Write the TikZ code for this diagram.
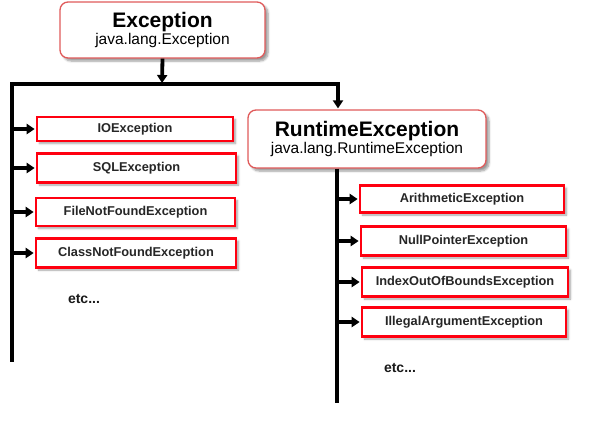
\documentclass[tikz,border=0pt]{standalone}
\usepackage{fontspec}
\setmainfont{Liberation Sans}
\usetikzlibrary{arrows.meta,shadows.blur}
\definecolor{boxred}{HTML}{FF0010}
\definecolor{softred}{HTML}{E05A5A}
\tikzset{
  bigbox/.style={draw=softred, line width=1.3pt, fill=white, rounded corners=8pt, align=center,
    blur shadow={shadow xshift=3pt, shadow yshift=-3pt, shadow blur steps=6, shadow opacity=40}},
  exbox/.style={draw=boxred, line width=2.6pt, fill=white, minimum height=26pt, inner sep=0pt,
    font=\bfseries\fontsize{12.8}{14}\selectfont, text=black!85,
    blur shadow={shadow xshift=2.5pt, shadow yshift=-2.5pt, shadow blur steps=5, shadow opacity=35}},
  conn/.style={line width=3.8pt, black},
  arr/.style={conn, -{Triangle[length=8pt,width=10pt]}, shorten >=1pt},
  etclabel/.style={font=\bfseries\fontsize{14}{16}\selectfont, text=black!90}
}
\begin{document}
\begin{tikzpicture}[x=1pt,y=-1pt]
\useasboundingbox (0,0) rectangle (590,429);
% main boxes
\node[bigbox, minimum width=205pt, minimum height=56pt] (exc) at (162.5,30)
  {{\bfseries\fontsize{21}{23}\selectfont Exception}\\[0pt]{\fontsize{15.5}{17}\selectfont java.lang.Exception}};
\node[bigbox, minimum width=238pt, minimum height=58pt] (rt) at (367,139)
  {{\bfseries\fontsize{21}{23}\selectfont RuntimeException}\\[0pt]{\fontsize{15.5}{17}\selectfont java.lang.RuntimeException}};
% junction coordinates
\coordinate (jt) at (162,84);
\coordinate (jl) at (12,84);
\coordinate (jr) at (338,84);
\coordinate (lb) at (12,360);
\coordinate (rb) at (337,403);
% left children
\node[exbox, minimum width=196pt, minimum height=24pt] (io) at (135,129) {IOException};
\node[exbox, minimum width=199pt, minimum height=29pt] (sql) at (136.5,168) {SQLException};
\node[exbox, minimum width=199pt, minimum height=28pt] (fnf) at (135.5,212) {FileNotFoundException};
\node[exbox, minimum width=200pt, minimum height=29pt] (cnf) at (136,253) {ClassNotFoundException};
\node[etclabel] (etc1) at (84,299) {etc...};
% right children
\node[exbox, minimum width=204pt, minimum height=27pt] (ari) at (462,199) {ArithmeticException};
\node[exbox, minimum width=205pt, minimum height=29pt] (np) at (463.5,241) {NullPointerException};
\node[exbox, minimum width=206pt, minimum height=29pt] (ioob) at (465,282) {IndexOutOfBoundsException};
\node[exbox, minimum width=204pt, minimum height=29pt] (ia) at (464,322) {IllegalArgumentException};
\node[etclabel] (etc2) at (400,368) {etc...};
% connectors
\draw[arr] (exc.south) -- (jt);
\draw[conn, line cap=rect] (lb) -- (jl) -- (jr);
\draw[arr] (jr) -- (jr |- rt.north);
\draw[conn] (rt.south -| rb) -- (rb);
\foreach \n in {io,sql,fnf,cnf}{
  \draw[arr] (jl |- \n.west) -- (\n.west);
}
\foreach \n in {ari,np,ioob,ia}{
  \draw[arr] (rb |- \n.west) -- (\n.west);
}
\end{tikzpicture}
\end{document}
